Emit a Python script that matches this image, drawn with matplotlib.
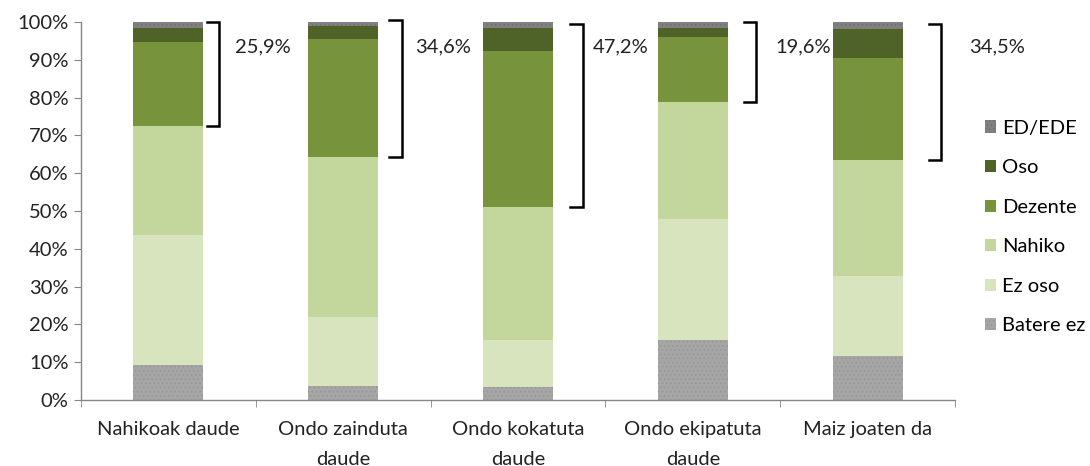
import matplotlib
matplotlib.use("Agg")
import matplotlib.pyplot as plt
from matplotlib.patches import Patch
import numpy as np

plt.rcParams['font.family'] = ['Lato', 'DejaVu Sans']
plt.rcParams['hatch.linewidth'] = 0.6

categories = ["Nahikoak daude", "Ondo zainduta\ndaude", "Ondo kokatuta\ndaude",
              "Ondo ekipatuta\ndaude", "Maiz joaten da"]
series_names = ["Batere ez", "Ez oso", "Nahiko", "Dezente", "Oso", "ED/EDE"]
batere_ez = [9.3, 3.8, 3.5, 15.8, 11.7]
ez_oso = [34.3, 18.2, 12.5, 32.2, 21.0]
nahiko = [28.8, 42.3, 35.1, 30.9, 30.9]
dezente = [22.2, 31.1, 41.1, 17.0, 27.0]
oso = [3.7, 3.5, 6.1, 2.6, 7.5]
ed_ede = [1.7, 1.1, 1.7, 1.5, 1.9]
bracket_labels = ["25,9%", "34,6%", "47,2%", "19,6%", "34,5%"]
bracket_tops = [100.0, 100.5, 99.5, 100.0, 99.5]

colors = ["#A6A6A6", "#D7E4BD", "#C3D69B", "#77933C", "#4F6228", "#808080"]
hatches = ["....", None, None, None, None, "...."]
hatch_edges = ["#959595", None, None, None, None, "#707070"]

FS = 14.5
TXT = "#222222"

fig = plt.figure(figsize=(10.9, 4.66), dpi=100)
ax = fig.add_axes([81/1090, 66/466, (955-81)/1090, (400-22)/466])

x = np.arange(len(categories))
series = [batere_ez, ez_oso, nahiko, dezente, oso, ed_ede]
bottom = np.zeros(len(categories))
for vals, col, h, he in zip(series, colors, hatches, hatch_edges):
    v = np.array(vals)
    if h:
        ax.bar(x, v, 0.4, bottom=bottom, color=col, hatch=h, edgecolor=he, linewidth=0)
    else:
        ax.bar(x, v, 0.4, bottom=bottom, color=col, linewidth=0)
    bottom += v

# brackets
br_off = [0.29, 0.334, 0.369, 0.363, 0.42]
tx_off = [0.38, 0.41, 0.43, 0.47, 0.58]
lower = np.array(batere_ez) + np.array(ez_oso) + np.array(nahiko)
for i in range(len(categories)):
    bx = x[i] + br_off[i]
    ax.plot([bx - 0.07, bx, bx, bx - 0.07], [bracket_tops[i], bracket_tops[i], lower[i], lower[i]],
            color="black", lw=1.8, solid_joinstyle="miter", clip_on=False)
    ax.text(x[i] + tx_off[i], 93.5, bracket_labels[i], fontsize=FS, va="center", ha="left", color=TXT)

ax.set_xlim(-0.5, 4.5)
ax.set_ylim(0, 100)
ax.set_yticks(np.arange(0, 101, 10))
ax.set_yticklabels([f"{v}%" for v in range(0, 101, 10)], fontsize=FS, color=TXT)
ax.set_xticks(x)
ax.set_xticklabels(categories, fontsize=FS, color=TXT, linespacing=1.95)
ax.set_xticks(np.arange(-0.5, 4.6, 1), minor=True)
ax.tick_params(axis='x', which='major', length=0, pad=15)
ax.tick_params(axis='x', which='minor', length=5, color="#868686", direction="out")
ax.tick_params(axis='y', length=5, color="#868686", direction="out", pad=4)
for s in ["top", "right"]:
    ax.spines[s].set_visible(False)
for s in ["left", "bottom"]:
    ax.spines[s].set_color("#868686")
    ax.spines[s].set_linewidth(1.0)

handles = []
for name, col, h, he in zip(series_names, colors, hatches, hatch_edges):
    if h:
        handles.append(Patch(facecolor=col, hatch=h, edgecolor=he, linewidth=0, label=name))
    else:
        handles.append(Patch(facecolor=col, linewidth=0, label=name))
fig.legend(handles[::-1], series_names[::-1], loc="center left", bbox_to_anchor=(985/1090, 1 - 227/466),
           frameon=False, fontsize=FS, handlelength=0.55, handleheight=0.55, handletextpad=0.3,
           labelspacing=1.12, borderaxespad=0, borderpad=0)

fig.savefig("out.png", dpi=100)
